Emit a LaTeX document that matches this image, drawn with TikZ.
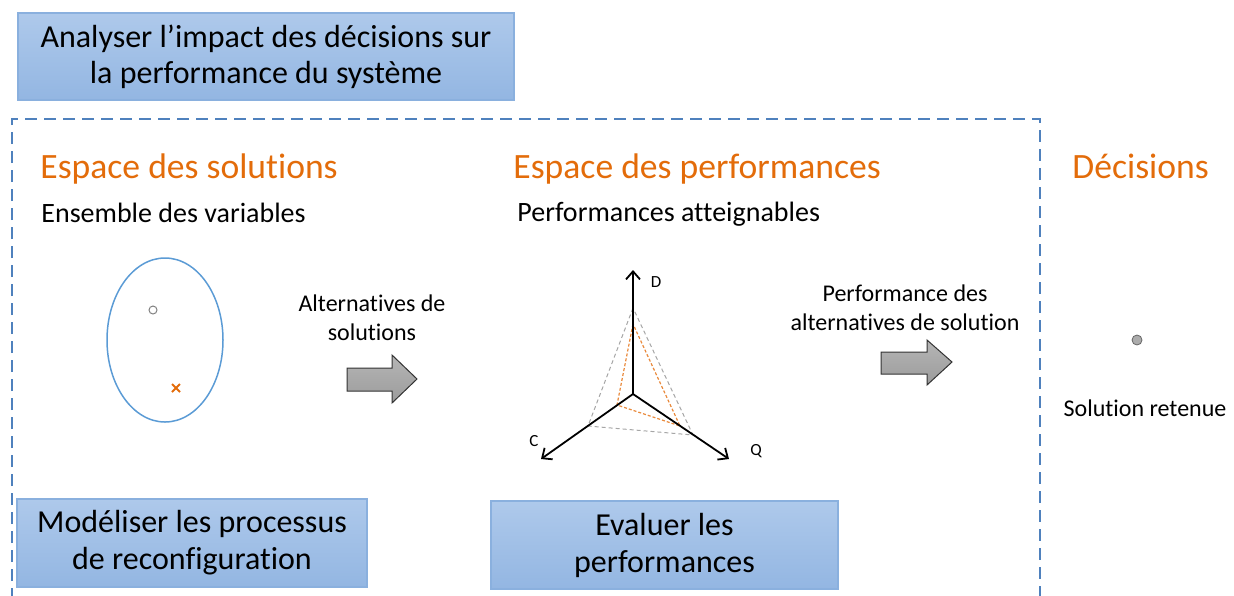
\documentclass[tikz,border=0pt]{standalone}
\usepackage{fontspec}
\setmainfont[Ligatures=NoCommon]{Carlito}
\usetikzlibrary{positioning,arrows.meta}

\definecolor{orangetitre}{HTML}{E36C0A}
\definecolor{bleucadre}{HTML}{4F81BD}
\definecolor{bleuellipse}{HTML}{5B9BD5}
\definecolor{bleuhaut}{HTML}{AEC9EB}
\definecolor{bleubas}{HTML}{93B6E2}
\definecolor{bleubord}{HTML}{8AB0DE}

\tikzset{
  boite/.style={draw=bleubord, line width=0.6pt, top color=bleuhaut, bottom color=bleubas,
    align=center, inner sep=0pt, font=\fontsize{16}{18}\selectfont},
  titre/.style={text=orangetitre, font=\fontsize{17.8}{21}\selectfont, anchor=base west, inner sep=0pt},
  soustitre/.style={font=\fontsize{14}{17}\selectfont, anchor=base west, inner sep=0pt},
  legende/.style={font=\fontsize{12}{14.5}\selectfont, align=center, inner sep=0pt},
  axe/.style={line width=0.9pt, -{Straight Barb[length=4pt,width=7pt]}},
  fleche/.style={draw=black!80, line width=0.5pt, top color=gray!58, bottom color=gray!78},
}

\begin{document}
\begin{tikzpicture}[x=0.5pt, y=-0.5pt]
    \useasboundingbox (0,0) rectangle (1234,595);

    % Boites
    \node[boite, minimum width=248pt, minimum height=43.5pt] (analyse) at (266,56.5)
      {Analyser l'impact des décisions sur\\la performance du système};
    \node[boite, minimum width=175pt, minimum height=44pt, font=\fontsize{16}{18.5}\selectfont] (modele) at (192,543)
      {Modéliser les processus\\de reconfiguration};
    \node[boite, minimum width=173.5pt, minimum height=44pt, font=\fontsize{16}{18.5}\selectfont] (evalue) at (664.5,545)
      {Evaluer les\\performances};

    % Cadre en pointilles
    \draw[bleucadre, line width=0.75pt, dash pattern=on 6pt off 3.5pt]
      (12,600) -- (12,119) -- (1040,119) -- (1040,600);

    % Titres
    \node[titre] (solutions) at (40,178) {Espace des solutions};
    \node[titre] (performances) at (513,178) {Espace des performances};
    \node[titre] (decisions) at (1072,178) {Décisions};
    \node[soustitre] (variables) at (41,222) {Ensemble des variables};
    \node[soustitre] (atteignables) at (517,221) {Performances atteignables};

    % Espace des solutions
    \draw[bleuellipse, line width=0.75pt] (165,340) ellipse (29pt and 41pt);
    \draw[gray, line width=0.5pt] (153,310) circle (2pt);
    \draw[orangetitre, line width=1pt] (172,384) -- (180,392) (172,392) -- (180,384);

    % Fleches
    \node[legende] (alternatives) at (372,318) {Alternatives de\\solutions};
    \path[fleche] (347,368) -- (392,368) -- (392,355) -- (417,379) -- (392,403)
      -- (392,391) -- (347,391) -- cycle;
    \node[legende] (perfalt) at (905,308) {Performance des\\alternatives de solution};
    \path[fleche] (881,352) -- (927,352) -- (927,340) -- (952,362) -- (927,385)
      -- (927,374) -- (881,374) -- cycle;

    % Diagramme radar
    \coordinate (centre) at (633,394);
    \coordinate (axeD) at (633,270);
    \coordinate (axeC) at (541,459);
    \coordinate (axeQ) at (729,459);
    \draw[gray!70, line width=0.5pt, dash pattern=on 2pt off 1.5pt]
      (633,308) -- (588,426) -- (693,435) -- cycle;
    \draw[orangetitre!80, line width=0.6pt, dash pattern=on 1.5pt off 1pt]
      (633,324) -- (617,405) -- (680,426) -- cycle;
    \draw[axe] (centre) -- (axeD);
    \draw[axe] (centre) -- (axeC);
    \draw[axe] (centre) -- (axeQ);
    \node[font=\fontsize{8.5}{10}\selectfont] (labD) at (656,282) {D};
    \node[font=\fontsize{8.5}{10}\selectfont] (labC) at (534,441) {C};
    \node[font=\fontsize{8.5}{10}\selectfont] (labQ) at (756,451) {Q};

    % Decision
    \filldraw[fill=gray!65, draw=gray!80!black, line width=0.4pt] (1137,340) circle (2.5pt);
    \node[legende] (retenue) at (1145,408) {Solution retenue};

  \end{tikzpicture}
\end{document}
